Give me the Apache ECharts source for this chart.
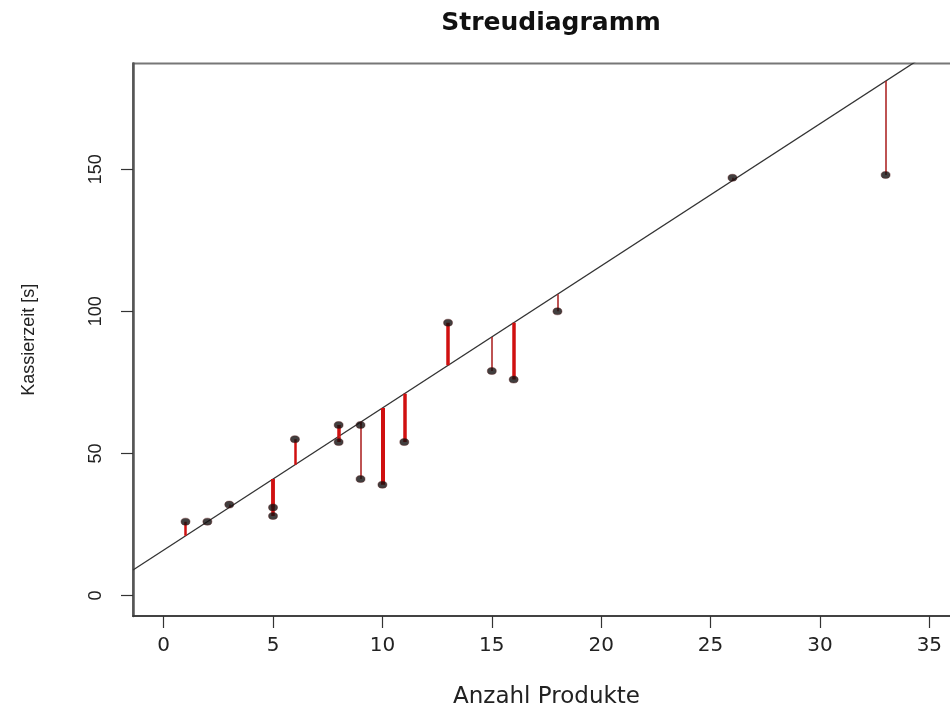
<!DOCTYPE html>
<html>
<head>
<meta charset="utf-8">
<script src="https://cdn.jsdelivr.net/npm/echarts@6/dist/echarts.min.js"></script>
<style>html,body{margin:0;padding:0;background:#fff}#c{width:950px;height:704px}</style>
</head>
<body>
<div id="c"></div>
<script>
// ---- data ----
const produkte = [1, 2, 3, 5, 5, 6, 8, 8, 9, 9, 10, 11, 13, 15, 16, 18, 26, 33];
const kassierzeit = [26, 26, 32, 28, 31, 55, 60, 54, 60, 41, 39, 54, 96, 79, 76, 100, 147, 148];
const lineIntercept = 16;   // drawn line: y = 16 + 5 x
const lineSlope = 5;
const xTicks = [0, 5, 10, 15, 20, 25, 30, 35];
const yTicks = [0, 50, 100, 150];
const xRange = [-1.4, 36.4];
const yRange = [-7.2, 187.2];
// style only: residual line widths
const residualWidths = [2.5, 1.5, 1.5, 3.5, 3.5, 2.5, 3.5, 3.5, 1.5, 1.5, 4, 3.5, 3.5, 1.5, 3.5, 1.5, 1.5, 1.5];

const fit = x => lineIntercept + lineSlope * x;
const SANS = '"Liberation Sans", Arial, Helvetica, sans-serif';
const WIDE = '"DejaVu Sans", "Liberation Sans", sans-serif';

const points = produkte.map((x, i) => [x, kassierzeit[i]]);
const residuals = produkte.map((x, i) => ({
  coords: [[x, kassierzeit[i]], [x, fit(x)]],
  lineStyle: {
    width: residualWidths[i],
    color: residualWidths[i] < 2 ? '#a81a1a' : '#d01010'
  }
}));
const linePts = [[xRange[0], fit(xRange[0])], [xRange[1], fit(xRange[1])]];

const chart = echarts.init(document.getElementById('c'), null, { renderer: 'canvas' });
chart.setOption({
  animation: false,
  backgroundColor: '#ffffff',
  title: {
    text: 'Streudiagramm',
    left: 546, top: 6, textAlign: 'center',
    textStyle: { fontFamily: WIDE, fontWeight: 'bold', fontSize: 25, color: '#111' }
  },
  grid: {
    left: 133, top: 63.5, width: 827, height: 552.5,
    outerBoundsMode: 'none', containLabel: false,
    show: true, borderColor: '#777', borderWidth: 2, backgroundColor: 'transparent'
  },
  xAxis: {
    type: 'value', min: xRange[0], max: xRange[1],
    name: 'Anzahl Produkte', nameLocation: 'middle', nameGap: 70,
    nameTextStyle: { fontFamily: WIDE, fontSize: 23, color: '#222' },
    axisLine: { show: true, onZero: false, lineStyle: { color: '#333', width: 1.5 } },
    axisTick: { show: true, customValues: xTicks, length: 12, lineStyle: { color: '#333', width: 1.2 } },
    axisLabel: { customValues: xTicks, margin: 20, fontFamily: WIDE, fontSize: 20, color: '#222' },
    splitLine: { show: false }
  },
  yAxis: {
    type: 'value', min: yRange[0], max: yRange[1],
    name: 'Kassierzeit [s]', nameLocation: 'middle', nameGap: 95, nameRotate: 90,
    nameTextStyle: { fontFamily: SANS, fontSize: 18, color: '#222' },
    axisLine: { show: true, onZero: false, lineStyle: { color: '#555', width: 2.5 } },
    axisTick: { show: true, customValues: yTicks, length: 12, lineStyle: { color: '#333', width: 1.2 } },
    axisLabel: { customValues: yTicks, rotate: 90, margin: 28, fontFamily: SANS, fontSize: 18, color: '#222' },
    splitLine: { show: false }
  },
  series: [
    {
      type: 'line', data: linePts, symbol: 'none', clip: true,
      lineStyle: { color: '#333', width: 1.3 }, z: 2
    },
    {
      type: 'lines', coordinateSystem: 'cartesian2d', data: residuals,
      lineStyle: { opacity: 1 }, z: 3, silent: true
    },
    {
      type: 'scatter', data: points, symbol: 'circle', symbolSize: [9, 7],
      itemStyle: { color: '#120e0e', borderColor: '#501010', borderWidth: 0.5 }, z: 4
    }
  ]
});
</script>
</body>
</html>
